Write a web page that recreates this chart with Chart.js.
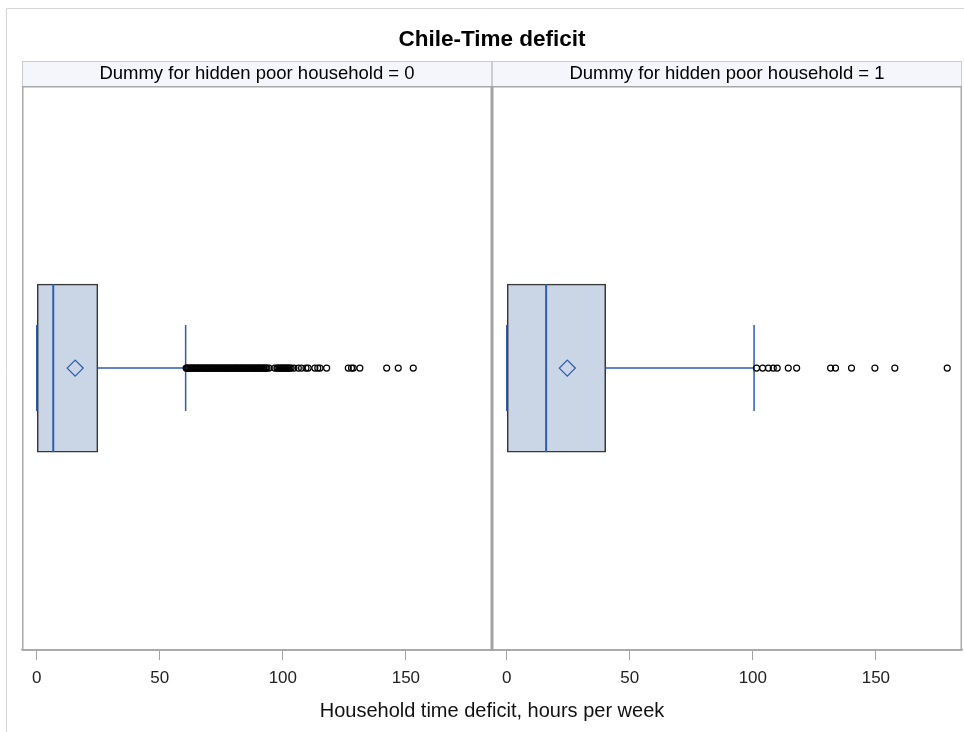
<!DOCTYPE html>
<html>
<head>
<meta charset="utf-8">
<title>Chile-Time deficit</title>
<script src="https://cdn.jsdelivr.net/npm/chart.js@4.4.1/dist/chart.umd.min.js"></script>
<style>
  html, body { margin: 0; padding: 0; background: #ffffff; }
  #wrap { width: 964px; height: 732px; position: relative; }
  canvas { display: block; }
</style>
</head>
<body>
<div id="wrap"><canvas id="chart" width="964" height="732"></canvas></div>
<script>
// ---- data ----
const chartTitle = 'Chile-Time deficit';
const panelLabels = ['Dummy for hidden poor household = 0', 'Dummy for hidden poor household = 1'];
const axisTitle = 'Household time deficit, hours per week';
const tickValues = [0, 50, 100, 150];

// box-plot summary per panel (hours per week)
const whiskerLow  = [0, 0];
const q1          = [0, 0];
const median      = [6.7, 16.0];
const q3          = [24.8, 40.2];
const mean        = [15.6, 24.6];
const whiskerHigh = [60.5, 100.5];

// outlying households, panel 0 (not hidden poor)
const outliers0 = [
  60.7, 61.0, 61.4, 61.8, 62.3, 62.6, 63.0, 63.5, 63.9, 64.2, 64.7, 65.1, 65.5, 65.8,
  66.3, 66.7, 67.1, 67.6, 68.0, 68.3, 68.8, 69.2, 69.5, 70.0, 70.4, 70.9, 71.2, 71.6,
  72.1, 72.4, 72.9, 73.3, 73.7, 74.1, 74.6, 75.0, 75.3, 75.8, 76.2, 76.7, 77.0, 77.4,
  77.9, 78.3, 78.6, 79.1, 79.5, 80.0, 80.3, 80.8, 81.2, 81.5, 82.0, 82.4, 82.9, 83.2,
  83.6, 84.1, 84.5, 84.8, 85.3, 85.7, 86.2, 86.5, 86.9, 87.4, 87.8, 88.2, 88.6, 89.0,
  89.5, 89.9, 90.2, 90.7, 91.1, 91.6, 92.0, 92.3, 92.8, 93.2, 93.6, 94.4, 96.7, 97.6,
  98.0, 98.5, 98.9, 99.4, 99.8, 100.2, 100.7, 101.1, 101.5, 102.0, 102.4, 102.9, 103.4,
  104.5, 106.3, 107.6, 109.4, 110.3, 113.0, 114.2, 115.1, 117.8,
  126.6, 127.9, 128.6, 131.3, 142.2, 146.9, 153.0
];
// outlying households, panel 1 (hidden poor)
const outliers1 = [
  101.5, 104.0, 106.3, 108.3, 109.9, 114.4, 117.8, 131.6, 133.6, 140.1, 149.6, 157.7, 179.0
];
const outliers = [outliers0, outliers1];

// ---- styling ----
const FONT = "'Liberation Sans', Arial, Helvetica, sans-serif";
const BLUE = '#2c5db0';
const BOX_FILL = '#cad5e6';
const BOX_EDGE = '#383838';
const FRAME = '#a9a9a9';

// panel frames, header strips and the outer border
const panelFrame = {
  id: 'panelFrame',
  beforeDraw(chart) {
    const { ctx, scales } = chart;
    ctx.save();
    ctx.strokeStyle = '#d5d5d5';
    ctx.lineWidth = 1;
    ctx.beginPath();
    ctx.moveTo(6.5, chart.height);
    ctx.lineTo(6.5, 8.5);
    ctx.lineTo(chart.width, 8.5);
    ctx.stroke();
    ['h0', 'h1'].forEach(id => {
      const s = scales[id];
      ctx.fillStyle = '#f5f6fb';
      ctx.fillRect(s.left, s.top, s.width, s.height);
      ctx.strokeStyle = '#cccccc';
      ctx.lineWidth = 1;
      ctx.strokeRect(s.left + 0.5, s.top + 0.5, s.width - 1, s.height);
    });
    ctx.restore();
  },
  afterDatasetsDraw(chart) {
    const { ctx, chartArea, scales } = chart;
    ctx.save();
    ctx.strokeStyle = FRAME;
    ctx.lineWidth = 1.5;
    ctx.strokeRect(chartArea.left + 0.75, chartArea.top + 0.75,
                   chartArea.width - 1.5, chartArea.height - 0.75);
    ctx.lineWidth = 3;
    ctx.strokeStyle = '#a3a3a3';
    ctx.beginPath();
    ctx.moveTo(scales.x0.right, chartArea.top);
    ctx.lineTo(scales.x0.right, chartArea.bottom);
    ctx.stroke();
    ctx.restore();
  }
};

// ---- datasets: one box plot per panel ----
const datasets = [];
[0, 1].forEach(p => {
  const xAxisID = 'x' + p;
  datasets.push({
    type: 'bar', xAxisID, yAxisID: 'y', order: 6, grouped: false,
    data: [[q1[p], q3[p]]],
    backgroundColor: BOX_FILL, borderColor: BOX_EDGE, borderWidth: 1.5,
    borderSkipped: false, barThickness: 168
  });
  datasets.push({
    type: 'scatter', xAxisID, yAxisID: 'y', order: 5, showLine: true,
    data: [{ x: q3[p], y: 0 }, { x: whiskerHigh[p], y: 0 }],
    pointRadius: 0, borderColor: BLUE, borderWidth: 1.5
  });
  datasets.push({
    type: 'scatter', xAxisID, yAxisID: 'y', order: 5, showLine: true,
    data: [{ x: whiskerLow[p], y: 0 }, { x: q1[p], y: 0 }],
    pointRadius: 0, borderColor: BLUE, borderWidth: 1.5
  });
  datasets.push({
    type: 'scatter', xAxisID, yAxisID: 'y', order: 4,
    data: [{ x: whiskerLow[p], y: 0 }, { x: whiskerHigh[p], y: 0 }],
    pointStyle: 'line', rotation: 90, pointRadius: 43,
    borderColor: BLUE, borderWidth: 1.5
  });
  datasets.push({
    type: 'scatter', xAxisID, yAxisID: 'y', order: 4,
    data: [{ x: median[p], y: 0 }],
    pointStyle: 'line', rotation: 90, pointRadius: 84,
    borderColor: BLUE, borderWidth: 2
  });
  datasets.push({
    type: 'scatter', xAxisID, yAxisID: 'y', order: 3,
    data: [{ x: mean[p], y: 0 }],
    pointStyle: 'rectRot', pointRadius: 8,
    borderColor: BLUE, borderWidth: 1.3, backgroundColor: 'rgba(0,0,0,0)'
  });
  datasets.push({
    type: 'scatter', xAxisID, yAxisID: 'y', order: 2,
    data: outliers[p].map(v => ({ x: v, y: 0 })),
    pointStyle: 'circle', pointRadius: 3,
    borderColor: '#000000', borderWidth: 1.2, backgroundColor: 'rgba(0,0,0,0)'
  });
});

// ---- scales ----
function valueAxis() {
  return {
    type: 'linear', axis: 'x', position: 'bottom', stack: 'panels', stackWeight: 1,
    min: -6, max: 185, offset: false,
    afterBuildTicks: axis => { axis.ticks = tickValues.map(v => ({ value: v })); },
    ticks: {
      font: { family: FONT, size: 17, lineHeight: 1.2 }, color: '#222222',
      padding: 7.8, maxRotation: 0, autoSkip: false
    },
    grid: {
      display: true, drawOnChartArea: false, drawTicks: true,
      tickLength: 10, color: '#a3a3a3', lineWidth: 1
    },
    border: { display: true, color: '#a9a9a9', width: 1.5 }
  };
}
function headerAxis(text, weight) {
  return {
    type: 'linear', axis: 'x', position: 'top', stack: 'headers', stackWeight: 1, weight,
    min: 0, max: 1, offset: false,
    ticks: { display: false },
    grid: { display: false, drawTicks: false },
    border: { display: false },
    title: {
      display: true, text, color: '#000000',
      font: { family: FONT, size: 18.5, lineHeight: 1.2 },
      padding: { top: 1.4, bottom: 1.4 }
    }
  };
}

new Chart(document.getElementById('chart'), {
  type: 'bar',
  data: { labels: ['all'], datasets },
  options: {
    responsive: false,
    animation: false,
    events: [],
    indexAxis: 'y',
    layout: { autoPadding: false, padding: { left: 22, right: 2, top: 0, bottom: 0 } },
    scales: {
      y: { type: 'category', display: false, offset: true },
      x0: valueAxis(),
      x1: valueAxis(),
      h0: headerAxis(panelLabels[0], 1),
      h1: headerAxis(panelLabels[1], 0)
    },
    plugins: {
      legend: { display: false },
      tooltip: { enabled: false },
      title: {
        display: true, text: chartTitle, fullSize: false, color: '#000000',
        font: { family: FONT, size: 22.5, weight: 'bold', lineHeight: 1.2 },
        padding: { top: 26, bottom: 8 }
      },
      subtitle: {
        display: true, text: axisTitle, position: 'bottom', fullSize: false, color: '#111111',
        font: { family: FONT, size: 20, lineHeight: 1.2 },
        padding: { top: 2.8, bottom: 9 }
      }
    }
  },
  plugins: [panelFrame]
});
</script>
</body>
</html>
